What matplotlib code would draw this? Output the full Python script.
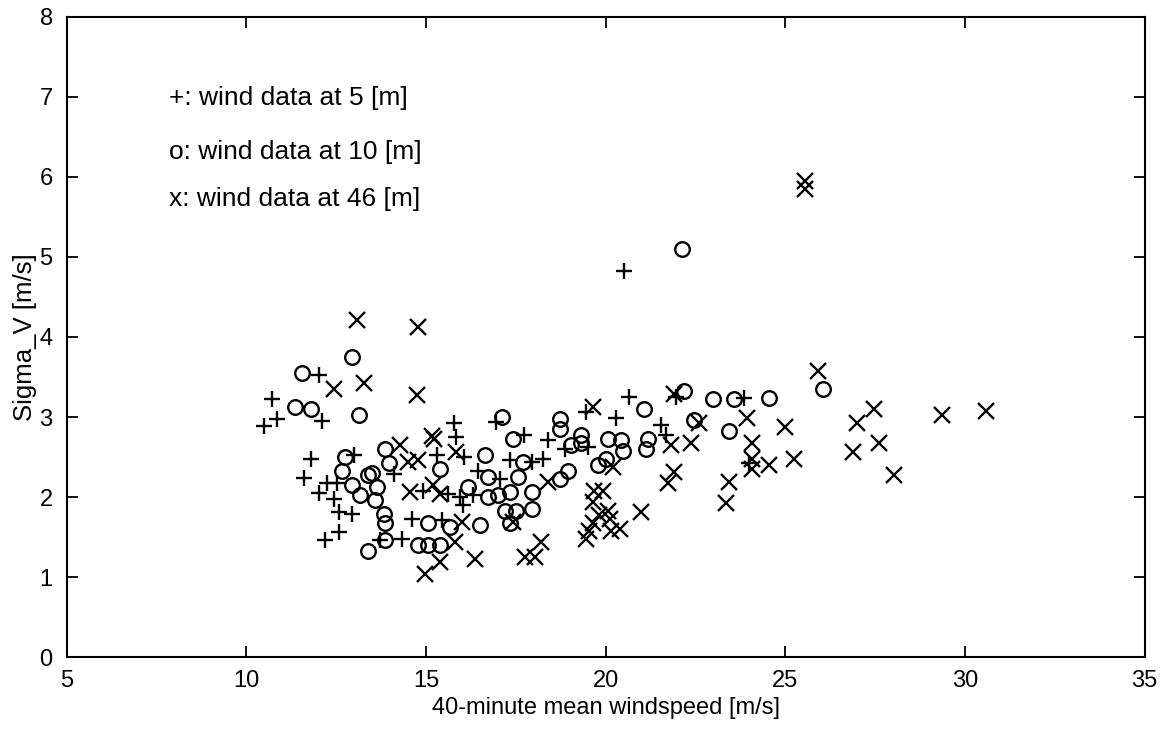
import numpy as np
import matplotlib
matplotlib.use("Agg")
from matplotlib import pyplot as plt

plt.rcParams['font.family'] = ['Liberation Sans', 'DejaVu Sans']

# wind data at 5 m (+)
speed_5m = [10.72, 10.49, 10.86, 12.02, 12.11, 11.79, 12.99, 11.60, 12.25, 12.53,
            12.02, 12.43, 12.57, 12.94, 12.57, 12.20, 13.73, 16.96, 15.79, 15.83,
            17.72, 16.07, 15.30, 14.10, 17.34, 16.46, 17.06, 14.93, 15.62, 15.95,
            16.32, 16.04, 14.61, 15.44, 14.33, 19.46, 20.29, 21.54, 18.40, 18.86,
            19.51, 21.68, 18.26, 17.94, 21.96, 23.85, 23.99, 20.50, 20.66]
sigma_5m = [3.23, 2.89, 2.97, 3.52, 2.95, 2.47, 2.52, 2.24, 2.18, 2.17,
            2.05, 1.98, 1.81, 1.79, 1.56, 1.47, 1.46, 2.94, 2.92, 2.75,
            2.77, 2.50, 2.52, 2.29, 2.46, 2.33, 2.23, 2.08, 2.04, 2.00,
            2.02, 1.90, 1.73, 1.71, 1.48, 3.06, 2.99, 2.90, 2.71, 2.60,
            2.63, 2.77, 2.48, 2.44, 3.25, 3.24, 2.42, 4.82, 3.25]

# wind data at 10 m (o)
speed_10m = [12.93, 11.55, 11.37, 11.79, 13.15, 12.74, 12.66, 12.94, 13.40, 13.50,
             13.64, 13.17, 13.59, 13.82, 13.87, 13.40, 13.87, 13.87, 17.12, 17.43,
             16.64, 13.96, 15.39, 17.70, 16.73, 17.57, 16.18, 16.73, 17.01, 17.34,
             17.20, 17.52, 17.34, 15.07, 15.67, 16.50, 14.79, 15.07, 15.39, 18.72,
             18.72, 21.08, 19.04, 19.32, 19.32, 20.06, 20.43, 20.48, 20.02, 19.79,
             21.17, 21.12, 18.95, 18.72, 17.94, 17.94, 22.19, 23.00, 23.56, 24.55,
             22.47, 23.44, 26.05, 22.12]
sigma_10m = [3.75, 3.55, 3.13, 3.10, 3.02, 2.50, 2.33, 2.15, 2.27, 2.30,
             2.13, 2.02, 1.96, 1.79, 1.67, 1.33, 1.47, 2.60, 3.00, 2.73,
             2.53, 2.42, 2.35, 2.44, 2.25, 2.25, 2.13, 2.00, 2.02, 2.06,
             1.83, 1.83, 1.67, 1.67, 1.63, 1.65, 1.40, 1.40, 1.40, 2.98,
             2.85, 3.10, 2.65, 2.77, 2.67, 2.73, 2.71, 2.58, 2.48, 2.40,
             2.73, 2.60, 2.33, 2.23, 2.06, 1.85, 3.33, 3.23, 3.23, 3.24,
             2.96, 2.83, 3.35, 5.10]

# wind data at 46 m (x)
speed_46m = [13.08, 12.43, 13.27, 15.18, 15.22, 14.28, 15.85, 14.51, 14.79, 14.56,
             15.21, 15.39, 17.43, 15.99, 15.81, 15.39, 16.36, 14.98, 17.75, 18.03,
             18.21, 19.65, 20.20, 21.82, 18.40, 21.73, 21.91, 19.69, 19.92, 19.65,
             20.06, 19.83, 20.11, 19.65, 20.39, 19.55, 20.15, 19.46, 20.99, 21.91,
             22.61, 22.37, 23.93, 24.06, 24.06, 24.06, 24.55, 23.44, 23.34, 25.92,
             27.46, 27.00, 27.60, 26.89, 28.03, 24.99, 25.24, 29.37, 30.58, 25.55,
             25.55, 14.79, 14.76]
sigma_46m = [4.21, 3.35, 3.43, 2.76, 2.72, 2.65, 2.56, 2.44, 2.46, 2.06,
             2.15, 2.04, 1.69, 1.69, 1.44, 1.19, 1.23, 1.04, 1.25, 1.25,
             1.44, 3.13, 2.38, 2.65, 2.19, 2.17, 2.31, 2.08, 2.08, 1.94,
             1.83, 1.77, 1.73, 1.67, 1.60, 1.58, 1.58, 1.48, 1.81, 3.29,
             2.92, 2.68, 2.99, 2.67, 2.48, 2.35, 2.40, 2.19, 1.92, 3.57,
             3.10, 2.93, 2.67, 2.56, 2.28, 2.88, 2.48, 3.03, 3.07, 5.95,
             5.85, 4.13, 3.27]

legend_lines = ['+: wind data at 5 [m]', 'o: wind data at 10 [m]', 'x: wind data at 46 [m]']
legend_y = [6.98, 6.31, 5.73]

fig = plt.figure(figsize=(11.68, 7.31), dpi=100)
ax = fig.add_axes([0.057, 0.101, 0.923, 0.876])

ax.plot(speed_5m, sigma_5m, '+', color='k', markersize=12, markeredgewidth=1.7)
ax.plot(speed_10m, sigma_10m, 'o', color='k', markersize=10.5, markeredgewidth=1.7,
        markerfacecolor='none')
ax.plot(speed_46m, sigma_46m, 'x', color='k', markersize=11, markeredgewidth=1.7)

# text legend, as in the original
for txt, yy in zip(legend_lines, legend_y):
    ax.text(7.85, yy, txt, fontsize=19, va='center', ha='left', color='k')

ax.set_xlim(5, 35)
ax.set_ylim(0, 8)
ax.set_xticks(np.arange(5, 36, 5))
ax.set_yticks(np.arange(0, 9, 1))
ax.tick_params(direction='in', top=True, right=True, length=8, width=1.3,
               labelsize=17)
ax.tick_params(axis='x', pad=9)
ax.tick_params(axis='y', pad=10)
for sp in ax.spines.values():
    sp.set_linewidth(1.5)

ax.set_xlabel('40-minute mean windspeed [m/s]', fontsize=17, labelpad=4)
ax.set_ylabel('Sigma_V [m/s]', fontsize=18.5, labelpad=2)

fig.savefig('out.png', dpi=100)
